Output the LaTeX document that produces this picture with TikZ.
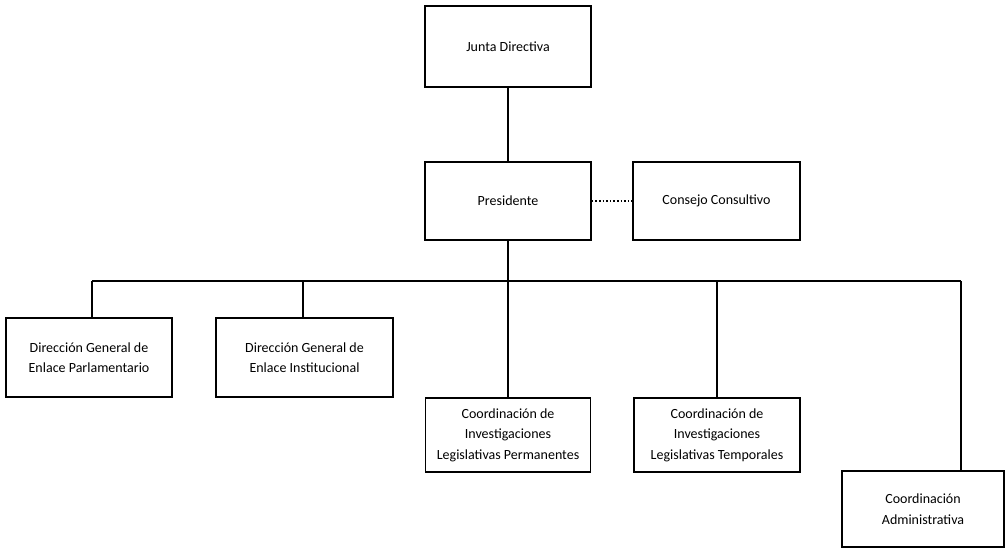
\documentclass[tikz,border=0pt]{standalone}
\usepackage{fontspec}
\setmainfont{Carlito}
\begin{document}
\begin{tikzpicture}[x=1pt,y=-1pt,
  unit/.style={draw=black, line width=1.6pt, align=center, font=\fontsize{14}{20.5}\selectfont,
    inner sep=0pt},
  link/.style={line width=1.6pt}]
\useasboundingbox (0,0) rectangle (1007,552);
% boxes of the chart
\node[unit, minimum width=166pt, minimum height=81pt] (junta) at (508,46.5) {Junta Directiva};
\node[unit, minimum width=166pt, minimum height=78pt] (pres) at (508,201) {Presidente};
\node[unit, minimum width=167pt, minimum height=78pt] (cons) at (716.5,201) {Consejo Consultivo};
\node[unit, minimum width=166pt, minimum height=79pt] (dgep) at (89,357.5) {Dirección General de\\Enlace Parlamentario};
\node[unit, minimum width=177pt, minimum height=79pt] (dgei) at (304.5,357.5) {Dirección General de\\Enlace Institucional};
\node[unit, minimum width=165pt, minimum height=74pt] (cilp) at (508,435) {Coordinación de\\Investigaciones\\Legislativas Permanentes};
\node[unit, minimum width=166pt, minimum height=74pt] (cilt) at (717,435) {Coordinación de\\Investigaciones\\Legislativas Temporales};
\node[unit, minimum width=162pt, minimum height=76pt] (cadm) at (923,509) {Coordinación\\Administrativa};
% connectors
\coordinate (busL) at (92,281);
\coordinate (busR) at (961,281);
\draw[link] (junta.south) -- (pres.north);
\draw[link, dotted] (pres.east) -- (cons.west);
\draw[link] (pres.south) -- (cilp.north);
\draw[link] (busL) -- (busR);
\draw[link] (busL) -- (busL |- dgep.north);
\draw[link] (303,281) -- (303,0 |- dgei.north);
\draw[link] (717,281) -- (cilt.north);
\draw[link] (busR) -- (busR |- cadm.north);
\end{tikzpicture}
\end{document}
